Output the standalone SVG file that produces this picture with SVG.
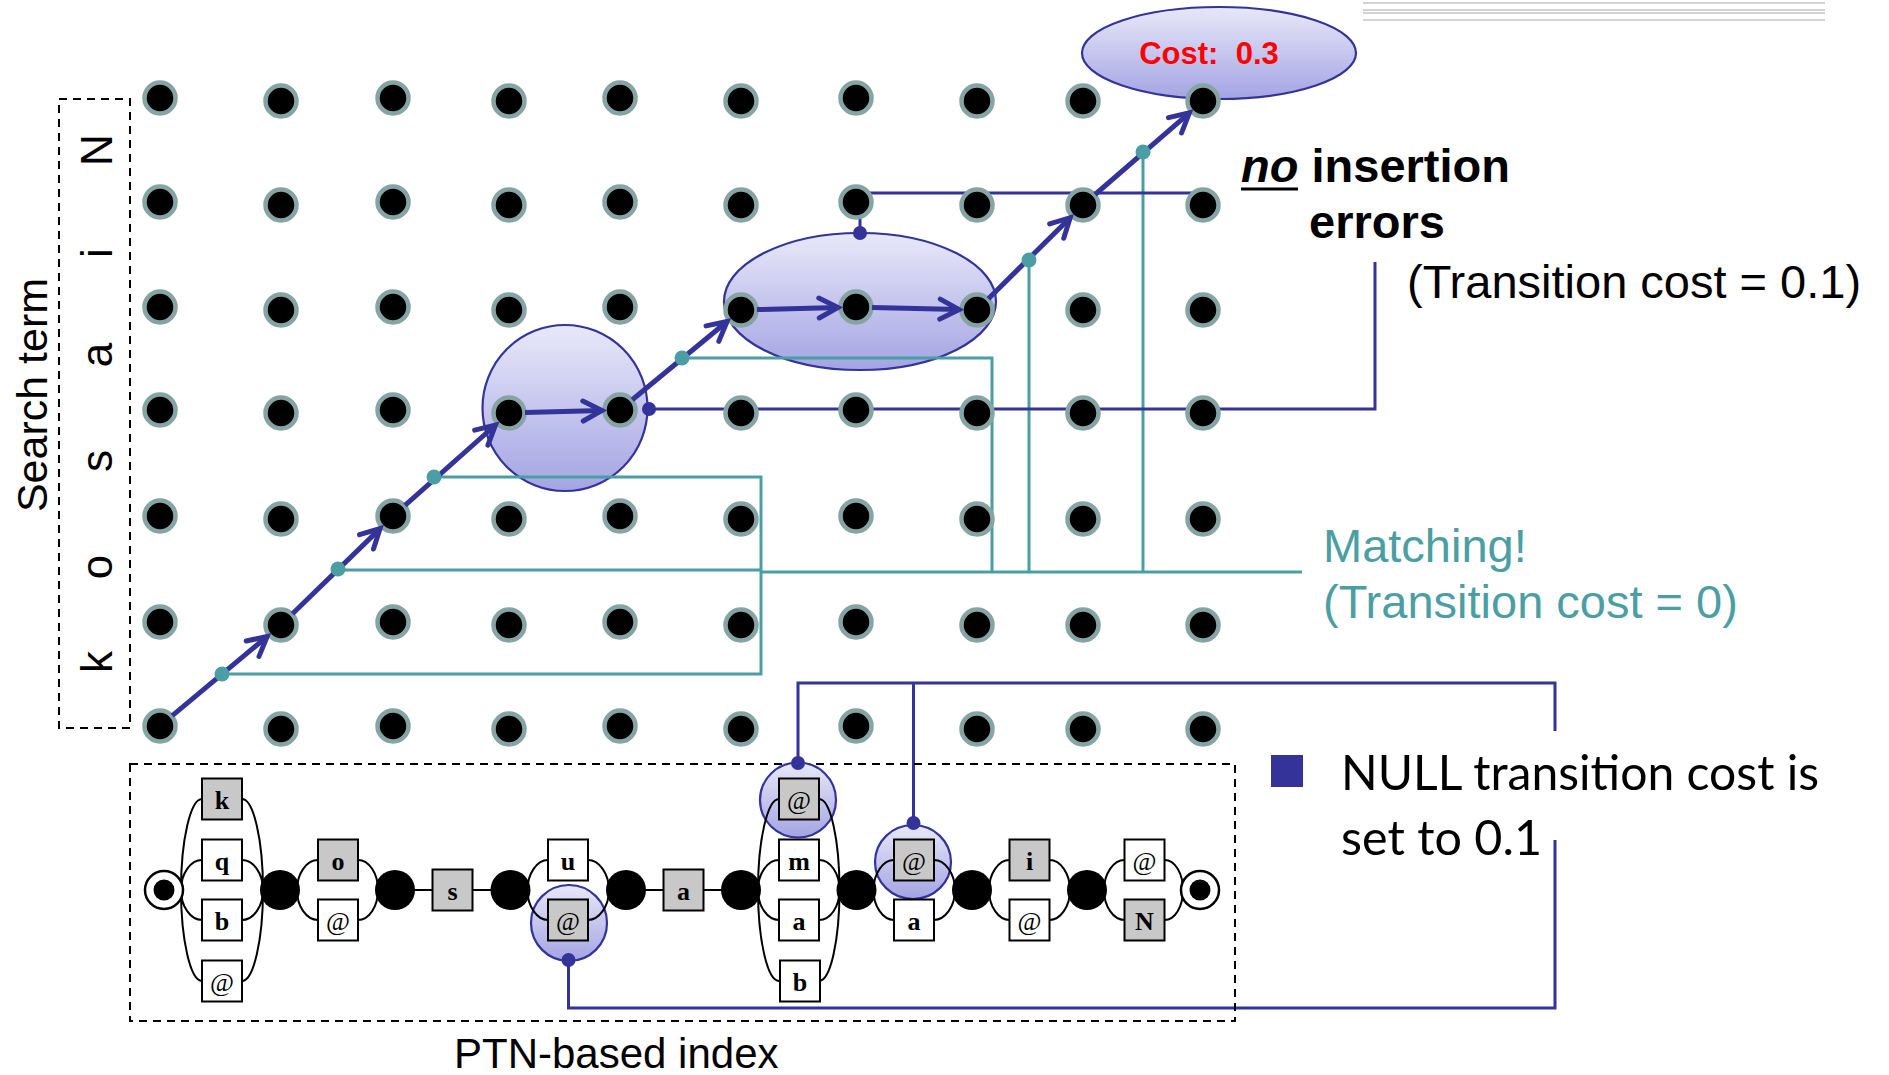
<svg xmlns="http://www.w3.org/2000/svg" width="1889" height="1075" viewBox="0 0 1889 1075">
<style>
.gd{fill:#000;stroke:#86a4a4;stroke-width:4.5}
.hl{fill:url(#lav);stroke:#333399;stroke-width:2.2}
.tl{fill:none;stroke:#4b9ea3;stroke-width:3}
.bl{fill:none;stroke:#333399;stroke-width:3}
.pa{fill:none;stroke:#333399;stroke-width:5;marker-end:url(#ah)}
.td{fill:#4b9ea3}
.bd{fill:#333399}
.arc{fill:none;stroke:#000;stroke-width:2}
.tw{fill:#fff;stroke:#000;stroke-width:2}
.tg{fill:#c8c8c8;stroke:#000;stroke-width:2}
.lb{font-family:"Liberation Serif","Times New Roman",serif;font-weight:bold;font-size:26px;text-anchor:middle;fill:#000}
.at{font-weight:normal}
.pl{fill:#000}
.dash{fill:none;stroke:#000;stroke-width:2;stroke-dasharray:8 6}
.sans{font-family:"Liberation Sans",Arial,sans-serif}
</style>
<defs>
<linearGradient id="lav" x1="0" y1="0" x2="0" y2="1">
<stop offset="0" stop-color="#e8e8f9"/>
<stop offset="1" stop-color="#a4a4e3"/>
</linearGradient>
<marker id="ah" markerUnits="userSpaceOnUse" markerWidth="28" markerHeight="28" viewBox="0 0 28 28" refX="23" refY="14" orient="auto">
<path d="M4,4 L23,14 L4,24" fill="none" stroke="#333399" stroke-width="5" stroke-linecap="round"/>
</marker>
</defs>

<g id="decor">
<line x1="1363" y1="3" x2="1825" y2="3" stroke="#c4c4c4" stroke-width="1.5"/>
<line x1="1363" y1="10" x2="1825" y2="10" stroke="#c4c4c4" stroke-width="1.5"/>
<line x1="1363" y1="13" x2="1825" y2="13" stroke="#c4c4c4" stroke-width="1.5"/>
<line x1="1363" y1="20" x2="1825" y2="20" stroke="#c4c4c4" stroke-width="1.5"/>
</g>

<g id="search-term">
<rect class="dash" x="59" y="99" width="71" height="629"/>
<text class="sans" font-size="43" text-anchor="middle" transform="translate(47,395) rotate(-90)">Search term</text>
<g class="sans" font-size="44" text-anchor="middle">
<text transform="translate(112,150) rotate(-90)">N</text>
<text transform="translate(112,253) rotate(-90)">i</text>
<text transform="translate(112,355) rotate(-90)">a</text>
<text transform="translate(112,461) rotate(-90)">s</text>
<text transform="translate(112,567) rotate(-90)">o</text>
<text transform="translate(112,662) rotate(-90)">k</text>
</g>
</g>

<g id="highlights">
<ellipse id="hl-sa" class="hl" cx="565" cy="408" rx="82.5" ry="83"/>
<ellipse id="hl-ai" class="hl" cx="860" cy="301.5" rx="136" ry="68.5"/>
<ellipse id="hl-cost" class="hl" cx="1219" cy="53" rx="137" ry="46"/>
</g>

<g id="connectors">
<path class="tl" d="M222,674 H761 V572"/>
<path class="tl" d="M434,477 H761 V572"/>
<path class="tl" d="M338,570 H761"/>
<path class="tl" stroke-width="4" d="M761,572 H1302"/>
<path class="tl" d="M682,358 H992 V572"/>
<path class="tl" d="M1029,260 V572"/>
<path class="tl" d="M1143,152 V572"/>
<path class="bl" d="M649,409 H1375 V262"/>
<path class="bl" d="M860,233 V193 H1203"/>
<path class="bl" d="M568.5,960 V1008 H1555 V840"/>
<path class="bl" d="M798,763 V683 H1555 V731"/>
<path class="bl" d="M913.5,823 V683"/>
</g>

<g id="grid">
<circle class="gd" cx="160" cy="98" r="15.5"/><circle class="gd" cx="160" cy="202" r="15.5"/><circle class="gd" cx="160" cy="307" r="15.5"/><circle class="gd" cx="160" cy="410" r="15.5"/><circle class="gd" cx="160" cy="516" r="15.5"/><circle class="gd" cx="160" cy="622" r="15.5"/><circle class="gd" cx="160" cy="726" r="15.5"/>
<circle class="gd" cx="281" cy="101" r="15.5"/><circle class="gd" cx="281" cy="205" r="15.5"/><circle class="gd" cx="281" cy="310" r="15.5"/><circle class="gd" cx="281" cy="413" r="15.5"/><circle class="gd" cx="281" cy="519" r="15.5"/><circle class="gd" cx="281" cy="625" r="15.5"/><circle class="gd" cx="281" cy="729" r="15.5"/>
<circle class="gd" cx="393" cy="98" r="15.5"/><circle class="gd" cx="393" cy="202" r="15.5"/><circle class="gd" cx="393" cy="307" r="15.5"/><circle class="gd" cx="393" cy="410" r="15.5"/><circle class="gd" cx="393" cy="516" r="15.5"/><circle class="gd" cx="393" cy="622" r="15.5"/><circle class="gd" cx="393" cy="726" r="15.5"/>
<circle class="gd" cx="509" cy="101" r="15.5"/><circle class="gd" cx="509" cy="205" r="15.5"/><circle class="gd" cx="509" cy="310" r="15.5"/><circle class="gd" cx="509" cy="413" r="15.5"/><circle class="gd" cx="509" cy="519" r="15.5"/><circle class="gd" cx="509" cy="625" r="15.5"/><circle class="gd" cx="509" cy="729" r="15.5"/>
<circle class="gd" cx="620" cy="98" r="15.5"/><circle class="gd" cx="620" cy="202" r="15.5"/><circle class="gd" cx="620" cy="307" r="15.5"/><circle class="gd" cx="620" cy="410" r="15.5"/><circle class="gd" cx="620" cy="516" r="15.5"/><circle class="gd" cx="620" cy="622" r="15.5"/><circle class="gd" cx="620" cy="726" r="15.5"/>
<circle class="gd" cx="741" cy="101" r="15.5"/><circle class="gd" cx="741" cy="205" r="15.5"/><circle class="gd" cx="741" cy="310" r="15.5"/><circle class="gd" cx="741" cy="413" r="15.5"/><circle class="gd" cx="741" cy="519" r="15.5"/><circle class="gd" cx="741" cy="625" r="15.5"/><circle class="gd" cx="741" cy="729" r="15.5"/>
<circle class="gd" cx="856" cy="98" r="15.5"/><circle class="gd" cx="856" cy="202" r="15.5"/><circle class="gd" cx="856" cy="307" r="15.5"/><circle class="gd" cx="856" cy="410" r="15.5"/><circle class="gd" cx="856" cy="516" r="15.5"/><circle class="gd" cx="856" cy="622" r="15.5"/><circle class="gd" cx="856" cy="726" r="15.5"/>
<circle class="gd" cx="977" cy="101" r="15.5"/><circle class="gd" cx="977" cy="205" r="15.5"/><circle class="gd" cx="977" cy="310" r="15.5"/><circle class="gd" cx="977" cy="413" r="15.5"/><circle class="gd" cx="977" cy="519" r="15.5"/><circle class="gd" cx="977" cy="625" r="15.5"/><circle class="gd" cx="977" cy="729" r="15.5"/>
<circle class="gd" cx="1083" cy="101" r="15.5"/><circle class="gd" cx="1083" cy="205" r="15.5"/><circle class="gd" cx="1083" cy="310" r="15.5"/><circle class="gd" cx="1083" cy="413" r="15.5"/><circle class="gd" cx="1083" cy="519" r="15.5"/><circle class="gd" cx="1083" cy="625" r="15.5"/><circle class="gd" cx="1083" cy="729" r="15.5"/>
<circle class="gd" cx="1203" cy="101" r="15.5"/><circle class="gd" cx="1203" cy="205" r="15.5"/><circle class="gd" cx="1203" cy="310" r="15.5"/><circle class="gd" cx="1203" cy="413" r="15.5"/><circle class="gd" cx="1203" cy="519" r="15.5"/><circle class="gd" cx="1203" cy="625" r="15.5"/><circle class="gd" cx="1203" cy="729" r="15.5"/>
</g>

<g id="path-arrows">
<line class="pa" x1="172.3" y1="715.7" x2="267.2" y2="636.5"/>
<line class="pa" x1="292.5" y1="613.8" x2="380.1" y2="528.6"/>
<line class="pa" x1="405" y1="505.4" x2="495.5" y2="425"/>
<line class="pa" x1="525" y1="412.6" x2="602" y2="410.5"/>
<line class="pa" x1="632.3" y1="399.8" x2="727.1" y2="321.5"/>
<line class="pa" x1="757" y1="309.6" x2="838" y2="307.5"/>
<line class="pa" x1="872" y1="307.4" x2="959" y2="309.6"/>
<line class="pa" x1="988.4" y1="298.7" x2="1070.2" y2="217.7"/>
<line class="pa" x1="1095.1" y1="194.5" x2="1189.4" y2="112.8"/>
<circle class="td" cx="222" cy="674" r="7.5"/>
<circle class="td" cx="338" cy="569" r="7.5"/>
<circle class="td" cx="434" cy="477" r="7.5"/>
<circle class="td" cx="682" cy="358" r="7.5"/>
<circle class="td" cx="1029" cy="260" r="7.5"/>
<circle class="td" cx="1143" cy="152" r="7.5"/>
<circle class="bd" cx="649" cy="409" r="7"/>
<circle class="bd" cx="860" cy="233" r="7"/>
</g>

<g id="cost-label">
<text class="sans" x="1209" y="64" font-size="31" font-weight="bold" fill="#ff0000" text-anchor="middle" xml:space="preserve">Cost:  0.3</text>
</g>

<g id="no-insertion-label">
<text class="sans" x="1241" y="182" font-size="47" font-weight="bold" fill="#000"><tspan font-style="italic">no</tspan> insertion</text>
<line x1="1241" y1="189" x2="1298" y2="189" stroke="#000" stroke-width="3"/>
<text class="sans" x="1309" y="238" font-size="47" font-weight="bold" fill="#000">errors</text>
<text class="sans" x="1407" y="298" font-size="47" fill="#000">(Transition cost = 0.1)</text>
</g>

<g id="matching-label">
<text class="sans" x="1323" y="562" font-size="47" fill="#4b9ea3">Matching!</text>
<text class="sans" x="1323" y="618" font-size="47" fill="#4b9ea3">(Transition cost = 0)</text>
</g>

<g id="null-note">
<rect x="1271" y="755" width="32" height="32" fill="#333399"/>
<text x="1341" y="790" font-family="Lato,'Open Sans',sans-serif" font-size="48" fill="#000" textLength="478" lengthAdjust="spacingAndGlyphs">NULL transition cost is</text>
<text x="1341" y="855" font-family="Lato,'Open Sans',sans-serif" font-size="48" fill="#000" textLength="201" lengthAdjust="spacingAndGlyphs">set to 0.1</text>
</g>

<g id="ptn-index">
<rect class="dash" x="130" y="764" width="1105" height="257"/>
<ellipse class="hl" cx="569" cy="923" rx="38" ry="38"/>
<ellipse class="hl" cx="798" cy="800" rx="38" ry="37.5"/>
<ellipse class="hl" cx="913" cy="862" rx="38" ry="37"/>
<g id="ptn-arcs">
<path class="arc" d="M181,890 C181,840 190.5,799 202,799 M181,890 C181,873.5 190.5,860 202,860 M181,890 C181,906.5 190.5,920 202,920 M181,890 C181,940 190.5,981 202,981"/>
<path class="arc" d="M242,799 C253.5,799 263,840 263,890 M242,860 C253.5,860 263,873.5 263,890 M242,920 C253.5,920 263,906.5 263,890 M242,981 C253.5,981 263,940 263,890"/>
<path class="arc" d="M297,890 C297,873.5 306.5,860 318,860 M358,860 C369,860 378,873.5 378,890 M297,890 C297,906.5 306.5,920 318,920 M358,920 C369,920 378,906.5 378,890"/>
<path class="arc" d="M395,890 H510.5 M626,890 H741"/>
<path class="arc" d="M527.5,890 C527.5,873.5 537,860 548,860 M588,860 C599,860 609,873.5 609,890 M527.5,890 C527.5,906.5 537,920 548,920 M588,920 C599,920 609,906.5 609,890"/>
<path class="arc" d="M758,890 C758,840 767.5,799 779,799 M819,799 C830.5,799 839.5,840 839.5,890 M758,890 C758,873.5 767.5,860 779,860 M819,860 C830.5,860 839.5,873.5 839.5,890 M758,890 C758,906.5 767.5,920 779,920 M819,920 C830.5,920 839.5,906.5 839.5,890 M758,890 C758,940 767.5,981 779,981 M819,981 C830.5,981 839.5,940 839.5,890"/>
<path class="arc" d="M873.5,890 C873.5,873.5 883,860 894,860 M934,860 C945,860 955,873.5 955,890 M873.5,890 C873.5,906.5 883,920 894,920 M934,920 C945,920 955,906.5 955,890"/>
<path class="arc" d="M989,890 C989,873.5 998.5,860 1009.5,860 M1049.5,860 C1060.5,860 1070,873.5 1070,890 M989,890 C989,906.5 998.5,920 1009.5,920 M1049.5,920 C1060.5,920 1070,906.5 1070,890"/>
<path class="arc" d="M1104,890 C1104,873.5 1113.5,860 1124.5,860 M1164.5,860 C1175,860 1183,873.5 1183,890 M1104,890 C1104,906.5 1113.5,920 1124.5,920 M1164.5,920 C1175,920 1183,906.5 1183,890"/>
</g>
<g id="ptn-places">
<circle cx="164" cy="890" r="19" fill="#fff" stroke="#000" stroke-width="2.5"/>
<circle cx="164" cy="890" r="10.5" class="pl"/>
<circle class="pl" cx="280" cy="890" r="20"/>
<circle class="pl" cx="395" cy="890" r="20"/>
<circle class="pl" cx="510.5" cy="890" r="20"/>
<circle class="pl" cx="626" cy="890" r="20"/>
<circle class="pl" cx="741" cy="890" r="20"/>
<circle class="pl" cx="856.5" cy="890" r="20"/>
<circle class="pl" cx="972" cy="890" r="20"/>
<circle class="pl" cx="1087" cy="890" r="20"/>
<circle cx="1200" cy="890" r="19" fill="#fff" stroke="#000" stroke-width="2.5"/>
<circle cx="1200" cy="890" r="10.5" class="pl"/>
</g>
<g id="ptn-transitions">
<rect class="tg" x="202" y="778.5" width="40" height="41"/><text class="lb" x="222" y="808.5">k</text>
<rect class="tw" x="202" y="839.5" width="40" height="41"/><text class="lb" x="222" y="869.5">q</text>
<rect class="tw" x="202" y="899.5" width="40" height="41"/><text class="lb" x="222" y="929.5">b</text>
<rect class="tw" x="202" y="960.5" width="40" height="41"/><text class="lb at" x="222" y="990.5">@</text>
<rect class="tg" x="318" y="839.5" width="40" height="41"/><text class="lb" x="338" y="869.5">o</text>
<rect class="tw" x="318" y="899.5" width="40" height="41"/><text class="lb at" x="338" y="929.5">@</text>
<rect class="tg" x="432.5" y="869.5" width="40" height="41"/><text class="lb" x="452.5" y="899.5">s</text>
<rect class="tw" x="548" y="839.5" width="40" height="41"/><text class="lb" x="568" y="869.5">u</text>
<rect class="tg" x="548" y="899.5" width="40" height="41"/><text class="lb at" x="568" y="929.5">@</text>
<rect class="tg" x="663.5" y="869.5" width="40" height="41"/><text class="lb" x="683.5" y="899.5">a</text>
<rect class="tg" x="779" y="778.5" width="40" height="41"/><text class="lb at" x="799" y="808.5">@</text>
<rect class="tw" x="779" y="839.5" width="40" height="41"/><text class="lb" x="799" y="869.5">m</text>
<rect class="tw" x="779" y="899.5" width="40" height="41"/><text class="lb" x="799" y="929.5">a</text>
<rect class="tw" x="780" y="960.5" width="40" height="41"/><text class="lb" x="800" y="990.5">b</text>
<rect class="tg" x="894" y="839.5" width="40" height="41"/><text class="lb at" x="914" y="869.5">@</text>
<rect class="tw" x="894" y="899.5" width="40" height="41"/><text class="lb" x="914" y="929.5">a</text>
<rect class="tg" x="1009.5" y="839.5" width="40" height="41"/><text class="lb" x="1029.5" y="869.5">i</text>
<rect class="tw" x="1009.5" y="899.5" width="40" height="41"/><text class="lb at" x="1029.5" y="929.5">@</text>
<rect class="tw" x="1124.5" y="839.5" width="40" height="41"/><text class="lb at" x="1144.5" y="869.5">@</text>
<rect class="tg" x="1124.5" y="899.5" width="40" height="41"/><text class="lb" x="1144.5" y="929.5">N</text>
</g>
<circle class="bd" cx="568.5" cy="960" r="7"/>
<circle class="bd" cx="798" cy="763" r="7"/>
<circle class="bd" cx="913.5" cy="823" r="7"/>
<text class="sans" x="454" y="1068" font-size="42" fill="#000">PTN-based index</text>
</g>
</svg>
